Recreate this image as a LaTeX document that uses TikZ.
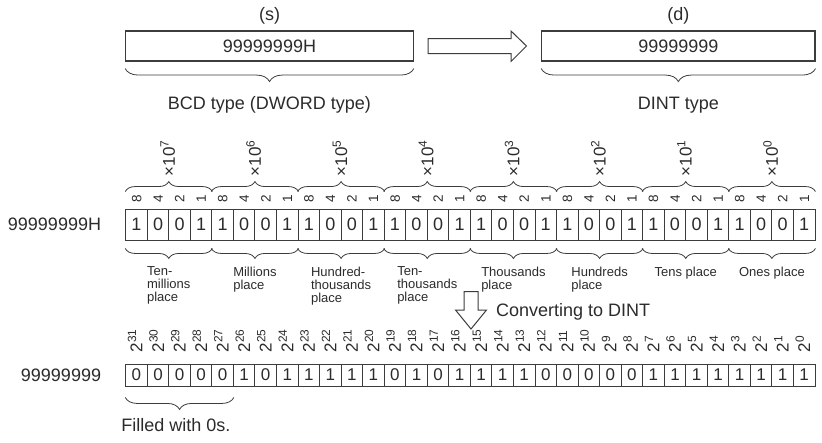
\documentclass[tikz,border=0pt]{standalone}
\usepackage{fontspec}
\setmainfont{Liberation Sans}
\usetikzlibrary{positioning,calc,decorations.pathreplacing}
\definecolor{ink}{HTML}{2B2B2B}
\definecolor{rule}{HTML}{3C3C3C}
\newcommand{\fsz}[1]{\fontsize{#1}{#1}\selectfont}
\tikzset{
  regbox/.style={rectangle, draw=rule, line width=1.1pt, minimum height=30pt, inner sep=0pt,
                 text=ink, font=\fsz{18}},
  bcdcell/.style={rectangle, draw=rule, line width=0.9pt, minimum width=21.54pt, minimum height=31pt,
                  inner sep=0pt, text=ink, font=\fsz{18}},
  bincell/.style={bcdcell, minimum height=22pt, font=\fsz{17}},
  txt/.style={inner sep=0pt, text=ink, font=\fsz{18}},
  placelbl/.style={inner sep=0pt, text=ink, align=left, anchor=north, font=\fsz{13}},
  vlbl/.style={rotate=90, anchor=base west, inner sep=0pt, text=ink},
  brcup/.style={decorate, decoration={brace, amplitude=#1}, draw=rule, line width=0.8pt},
  brcdn/.style={decorate, decoration={brace, mirror, amplitude=#1}, draw=rule, line width=0.8pt},
  blockarrow/.style={draw=rule, line width=1pt, fill=white, line join=miter}
}
\begin{document}
\begin{tikzpicture}[x=1pt, y=-1pt]
  \useasboundingbox (0,0) rectangle (822,442);
  % source and destination
  \node[regbox, minimum width=287.6pt] (s) at (269.5,46) {99999999H};
  \node[regbox, minimum width=273.3pt] (d) at (678.35,46) {99999999};
  \node[txt, above=6pt of s] (sname) {(s)};
  \node[txt, above=6pt of d] (dname) {(d)};
  \draw[brcdn=13] ($(s.south west)+(0,7)$) -- ($(s.south east)+(0,7)$);
  \draw[brcdn=13] ($(d.south west)+(0,7)$) -- ($(d.south east)+(0,7)$);
  \node[txt, below=35pt of s] (stype) {BCD type (DWORD type)};
  \node[txt, below=35pt of d] (dtype) {DINT type};
  \draw[blockarrow] (428,38.5) -- (511,38.5) -- (511,31) -- (526.5,46) -- (511,61.5) -- (511,53.5) -- (428,53.5) -- cycle;

  % BCD digits
  \foreach \v [count=\i from 0] in {1,0,0,1,1,0,0,1,1,0,0,1,1,0,0,1,1,0,0,1,1,0,0,1,1,0,0,1,1,0,0,1}
    \node[bcdcell] (h\i) at ({136.47+21.54*\i},224.5) {\v};
  \node[txt, left=24pt of h0] (hval) {99999999H};
  \foreach \w [count=\i from 0] in {8,4,2,1,8,4,2,1,8,4,2,1,8,4,2,1,8,4,2,1,8,4,2,1,8,4,2,1,8,4,2,1}
    \node[vlbl, font=\fsz{13.5}] (wt\i) at ($(h\i.north)+(4.8,-5.5)$) {\w};
  \foreach \g/\p in {0/{Ten-\\millions\\place}, 1/{Millions\\place}, 2/{Hundred-\\thousands\\place},
                     3/{Ten-\\thousands\\place}, 4/{Thousands\\place}, 5/{Hundreds\\place},
                     6/{Tens place}, 7/{Ones place}}
  {
    \pgfmathtruncatemacro{\a}{4*\g}
    \pgfmathtruncatemacro{\z}{4*\g+3}
    \pgfmathtruncatemacro{\e}{7-\g}
    \draw[brcup=10] ($(h\a.north west)+(0,-17)$) -- ($(h\z.north east)+(0,-17)$);
    \draw[brcdn=10] ($(h\a.south west)+(0,8)$) -- ($(h\z.south east)+(0,8)$);
    \node[vlbl, font=\fsz{17}] (mul\g) at ($(h\a.north west)!0.5!(h\z.north east)+(6,-32)$) {×10\textsuperscript{\e}};
    \node[placelbl] (pl\g) at ($(h\a.south west)!0.5!(h\z.south east)+(0,26)$) {\p};
  }

  % conversion
  \draw[blockarrow] (464,291.5) -- (478,291.5) -- (478,310) -- (486.5,310) -- (471,329) -- (455.5,310) -- (464,310) -- cycle;
  \node[txt, anchor=west] (conv) at (496,312) {Converting to DINT};

  % DINT bits
  \foreach \v [count=\i from 0] in {0,0,0,0,0,1,0,1,1,1,1,1,0,1,0,1,1,1,1,0,0,0,0,0,1,1,1,1,1,1,1,1}
  {
    \pgfmathtruncatemacro{\n}{31-\i}
    \node[bincell] (b\i) at ({136.47+21.54*\i},375) {\v};
    \node[vlbl, font=\fsz{17}] (ex\i) at ($(b\i.north)+(6,-11)$) {2\textsuperscript{\n}};
  }
  \node[txt, left=24pt of b0] (bval) {99999999};
  \draw[brcdn=12] ($(b0.south west)+(0,11)$) -- ($(b4.south east)+(0,11)$);
  \node[txt, anchor=west] (zeros) at ($(b0.south west)+(-4,39)$) {Filled with 0s.};
\end{tikzpicture}
\end{document}
